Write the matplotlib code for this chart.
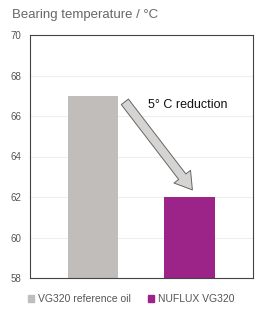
import matplotlib.pyplot as plt
from matplotlib.patches import Patch

plt.rcParams['font.family'] = ['Liberation Sans', 'DejaVu Sans']

# data
labels = ["VG320 reference oil", "NUFLUX VG320"]
temps = [67, 62]
colors = ["#c1bdba", "#9c2387"]
yticks = [58, 60, 62, 64, 66, 68, 70]

fig = plt.figure(figsize=(2.62, 3.12), dpi=100)
ax = fig.add_axes([30/262, 1 - 278/312, 223/262, 243/312])

ax.bar(range(len(labels)), temps, width=0.52, color=colors, zorder=2)
ax.set_xlim(-0.653, 1.658)
ax.set_ylim(58, 70)
ax.set_yticks(yticks)
ax.set_xticks([])
ax.tick_params(axis='y', length=0, labelsize=7, labelcolor='#555555', pad=6)
ax.grid(axis='y', color='#eeeeee', linewidth=0.8, zorder=0)
for s in ax.spines.values():
    s.set_color('#444444')
    s.set_linewidth(0.8)

# arrow + text
ax.annotate("", xy=(1.03, 62.35), xytext=(0.33, 66.7),
            arrowprops=dict(arrowstyle="simple,head_width=1.5,head_length=1.2,tail_width=0.65",
                            fc="#d6d4d2", ec="#666666", lw=0.7, shrinkA=0, shrinkB=0), zorder=3)
ax.text(0.57, 66.55, "5° C reduction", fontsize=9, va='center', ha='left', color='#111111')

fig.text(12/262, 1 - 15/312, "Bearing temperature / °C", fontsize=9.5, color='#666666',
         va='center', ha='left')

handles = [Patch(color=c, label=l) for c, l in zip(colors, labels)]
fig.legend(handles=handles, loc='center', bbox_to_anchor=(0.5, 1 - 299/312), ncol=2,
           frameon=False, fontsize=7.5, labelcolor='#555555', handlelength=0.6, handleheight=0.6,
           handletextpad=0.4, columnspacing=1.6)

fig.savefig("out.png", dpi=100)
